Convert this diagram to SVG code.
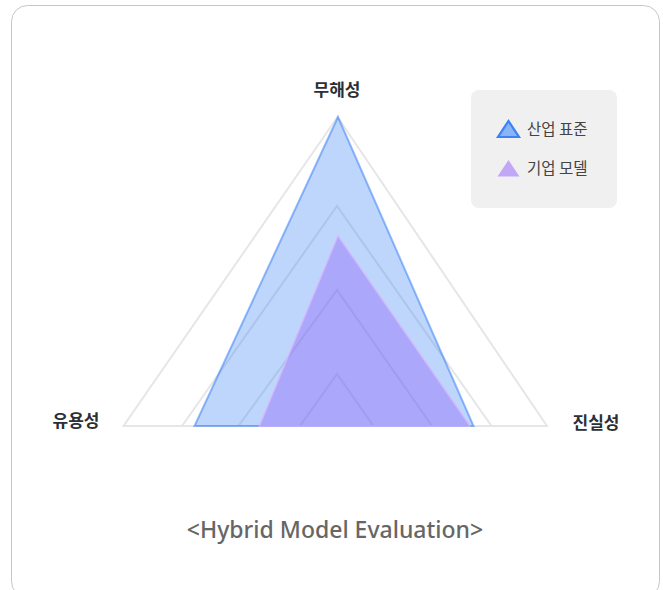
<svg xmlns="http://www.w3.org/2000/svg" width="663" height="590" viewBox="0 0 663 590">
<style>
.grid{fill:none;stroke:#e6e6e6;stroke-width:2;stroke-linejoin:miter}
.axis{font-family:"Noto Sans CJK KR","Noto Sans",sans-serif;font-size:17px;font-weight:700;fill:#2b2f36}
.leg{font-family:"Noto Sans CJK KR","Noto Sans",sans-serif;font-size:15.5px;fill:#444}
.title{font-family:"Noto Sans","Noto Sans CJK KR",sans-serif;font-size:23px;font-weight:500;fill:#666}
</style>
<rect x="11.5" y="5.5" width="648" height="592" rx="16" fill="#fff" stroke="#c6c6c6" stroke-width="1"/>
<g id="grid">
<polygon class="grid" points="337.5,117 123.5,426 547,426"/>
<polygon class="grid" points="337,206 182,426 491.5,426"/>
<polygon class="grid" points="337,290 238.5,426 432,426"/>
<polygon class="grid" points="337,374 300,426 373.5,426"/>
</g>
<g id="series-standard">
<polygon points="338,117 194.5,426 473.5,426" fill="#3b82f6" fill-opacity="0.33" stroke="#3b82f6" stroke-opacity="0.55" stroke-width="2" stroke-linejoin="miter"/>
</g>
<g id="series-model">
<polygon points="338,236 259.5,426 470,426" fill="#8b5cf6" fill-opacity="0.38" stroke="#d8b4fe" stroke-opacity="0.8" stroke-width="1.5" stroke-linejoin="miter"/>
</g>
<g id="label-top"><text class="axis" x="337" y="96" text-anchor="middle">무해성</text></g>
<g id="label-left"><text class="axis" x="76" y="427" text-anchor="middle">유용성</text></g>
<g id="label-right"><text class="axis" x="596" y="429" text-anchor="middle">진실성</text></g>
<g id="legend">
<rect x="471" y="90" width="146" height="118" rx="8" fill="#f0f0f0"/>
<polygon points="498,137 519,137 508.5,121" fill="#8ab4f8" stroke="#3b82f6" stroke-width="2.2" stroke-linejoin="miter"/>
<text class="leg" x="527" y="135">산업 표준</text>
<polygon points="497.5,176.5 519.5,176.5 508.5,160" fill="#c3a7f7"/>
<text class="leg" x="527" y="174">기업 모델</text>
</g>
<g id="title"><text class="title" x="335" y="538" text-anchor="middle">&lt;Hybrid Model Evaluation&gt;</text></g>
</svg>
